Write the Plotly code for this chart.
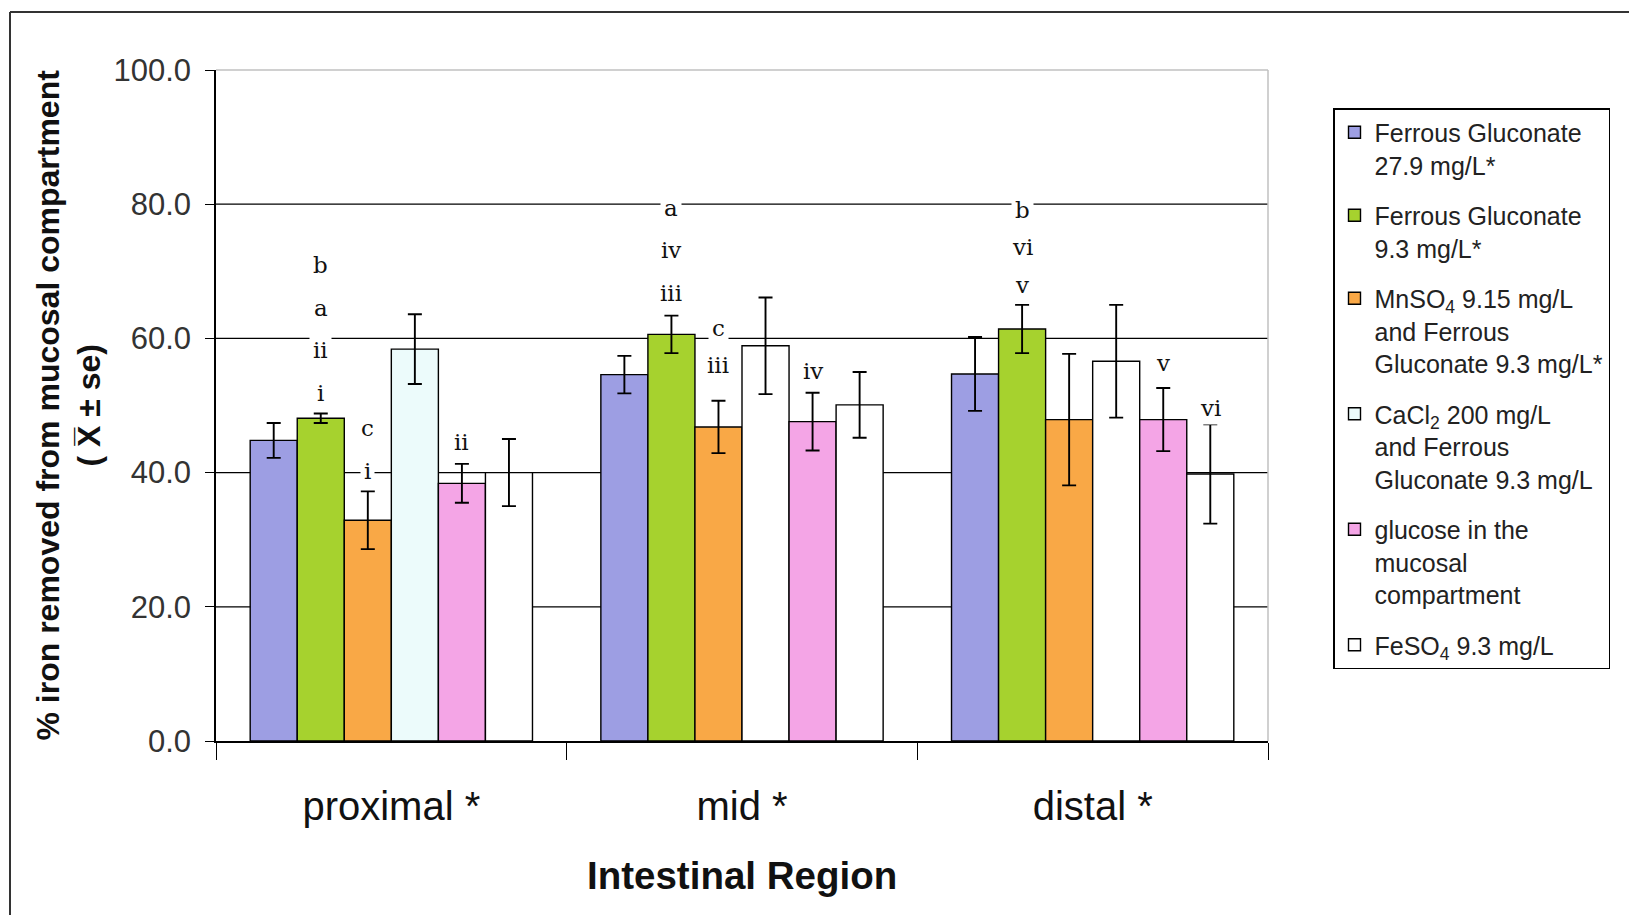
import plotly.graph_objects as go

# ---------------- data ----------------
regions = ["proximal *", "mid *", "distal *"]

series_names = [
    "Ferrous Gluconate<br>27.9 mg/L*",
    "Ferrous Gluconate<br>9.3 mg/L*",
    "MnSO<sub>4</sub> 9.15 mg/L<br>and Ferrous<br>Gluconate 9.3 mg/L*",
    "CaCl<sub>2</sub> 200 mg/L<br>and Ferrous<br>Gluconate 9.3 mg/L",
    "glucose in the<br>mucosal<br>compartment",
    "FeSO<sub>4</sub> 9.3 mg/L",
]

fg_27_9 = [44.8, 54.6, 54.7]
fg_27_9_se = [2.6, 2.8, 5.5]
fg_9_3 = [48.1, 60.6, 61.4]
fg_9_3_se = [0.7, 2.8, 3.6]
mnso4 = [32.9, 46.8, 47.9]
mnso4_se = [4.3, 3.9, 9.8]
cacl2 = [58.4, 58.9, 56.6]
cacl2_se = [5.2, 7.2, 8.4]
glucose = [38.4, 47.6, 47.9]
glucose_se = [2.9, 4.3, 4.7]
feso4 = [40.0, 50.1, 39.8]
feso4_se = [5.0, 4.9, 7.4]

series_values = [fg_27_9, fg_9_3, mnso4, cacl2, glucose, feso4]
series_se = [fg_27_9_se, fg_9_3_se, mnso4_se, cacl2_se, glucose_se, feso4_se]

y_ticks = [0, 20, 40, 60, 80, 100]

# significance letters: text, region index, series index, height
annot_text = ["b", "a", "ii", "i", "c", "i", "ii",
              "a", "iv", "iii", "c", "iii", "iv",
              "b", "vi", "v", "v", "vi"]
annot_region = [0, 0, 0, 0, 0, 0, 0, 1, 1, 1, 1, 1, 1, 2, 2, 2, 2, 2]
annot_series = [1, 1, 1, 1, 2, 2, 4, 1, 1, 1, 2, 2, 4, 1, 1, 1, 4, 5]
annot_y = [70.9, 64.5, 58.3, 51.8, 46.7, 40.2, 44.5,
           79.5, 73.2, 66.8, 61.6, 56.0, 55.2,
           79.1, 73.6, 67.9, 56.3, 49.6]

# ---------------- styling ----------------
colors = [
    ["#9d9ee3"] * 3,
    ["#a6d22e"] * 3,
    ["#f9a846"] * 3,
    ["#ecfbfb", "#ffffff", "#ffffff"],
    ["#f4a5e6"] * 3,
    ["#ffffff"] * 3,
]

W, H = 1629, 915
L, R, T, B = 216, 1268, 70, 741
BARGAP = 0.195
n_series = len(series_names)

fig = go.Figure()
for i, (name, vals, se) in enumerate(zip(series_names, series_values, series_se)):
    fig.add_trace(go.Bar(
        x=regions, y=vals, name=name, legendgroup=f"g{i}",
        marker=dict(color=colors[i], line=dict(color="black", width=1.4)),
        error_y=dict(type="data", array=se, visible=True,
                     color="black", thickness=1.9, width=7),
    ))

def px_to_paper_x(px):
    return (px - L) / (R - L)

def px_to_paper_y(py):
    return (B - py) / (B - T)

annotations = []
slot = (1 - BARGAP) / n_series
for txt, g, s, yv in zip(annot_text, annot_region, annot_series, annot_y):
    annotations.append(dict(
        x=g + (s - (n_series - 1) / 2) * slot, y=yv, xref="x", yref="y",
        text=txt, showarrow=False, bgcolor="white", borderpad=3,
        font=dict(family="DejaVu Serif", size=23, color="#111"),
    ))

# y-axis title
annotations.append(dict(
    x=px_to_paper_x(68), y=0.5, xref="paper", yref="paper",
    text="<b>% iron removed from mucosal compartment<br>( X\u0305 \u00b1 se)</b>",
    textangle=-90, showarrow=False, xanchor="center", yanchor="middle",
    font=dict(family="Liberation Sans", size=32, color="#111"),
))
# x-axis title
annotations.append(dict(
    x=0.5, y=px_to_paper_y(875), xref="paper", yref="paper",
    text="<b>Intestinal Region</b>", showarrow=False,
    xanchor="center", yanchor="middle",
    font=dict(family="Liberation Sans", size=38.5, color="#111"),
))

shapes = []
# horizontal grid lines (black) at interior ticks
for t in y_ticks[1:-1]:
    shapes.append(dict(type="line", xref="paper", yref="y", x0=0, x1=1, y0=t, y1=t,
                       line=dict(color="black", width=1.3), layer="below"))
# light gray plot border top/right
shapes.append(dict(type="line", xref="paper", yref="paper", x0=0, x1=1, y0=1, y1=1,
                   line=dict(color="#c0c0c0", width=1.5), layer="below"))
shapes.append(dict(type="line", xref="paper", yref="paper", x0=1, x1=1, y0=0, y1=1,
                   line=dict(color="#c0c0c0", width=1.5), layer="below"))
# outer frame (top and left only)
shapes.append(dict(type="line", xref="paper", yref="paper",
                   x0=px_to_paper_x(10), x1=px_to_paper_x(W + 5),
                   y0=px_to_paper_y(12), y1=px_to_paper_y(12),
                   line=dict(color="#333", width=2)))
shapes.append(dict(type="line", xref="paper", yref="paper",
                   x0=px_to_paper_x(10), x1=px_to_paper_x(10),
                   y0=px_to_paper_y(12), y1=px_to_paper_y(H + 5),
                   line=dict(color="#333", width=2)))

fig.update_layout(
    width=W, height=H,
    margin=dict(l=L, r=W - R, t=T, b=H - B, pad=0),
    paper_bgcolor="white", plot_bgcolor="white",
    barmode="group", bargap=BARGAP, bargroupgap=0,
    showlegend=True,
    legend=dict(
        x=px_to_paper_x(1333), y=px_to_paper_y(108), xanchor="left", yanchor="top",
        bordercolor="black", borderwidth=1.5, bgcolor="white",
        font=dict(family="Liberation Sans", size=25, color="#222"),
        traceorder="grouped", tracegroupgap=15, itemwidth=30, valign="top",
    ),
    annotations=annotations,
    shapes=shapes,
    font=dict(family="Liberation Sans"),
)

fig.update_xaxes(
    showline=True, linecolor="black", linewidth=1.5,
    ticks="outside", tickson="boundaries", ticklen=17, tickcolor="black", tickwidth=1.3,
    tickfont=dict(family="Liberation Sans", size=40, color="#111"),
    ticklabelstandoff=29,
    showgrid=False, zeroline=False,
)
fig.update_yaxes(
    range=[0, 100], tickvals=y_ticks, tickformat=".1f",
    showline=True, linecolor="black", linewidth=1.5,
    ticks="outside", ticklen=9, tickcolor="black", tickwidth=1.3,
    tickfont=dict(family="Liberation Sans", size=31, color="#333"),
    ticklabelstandoff=8,
    showgrid=False, zeroline=False,
)

fig.write_html("out.html")
